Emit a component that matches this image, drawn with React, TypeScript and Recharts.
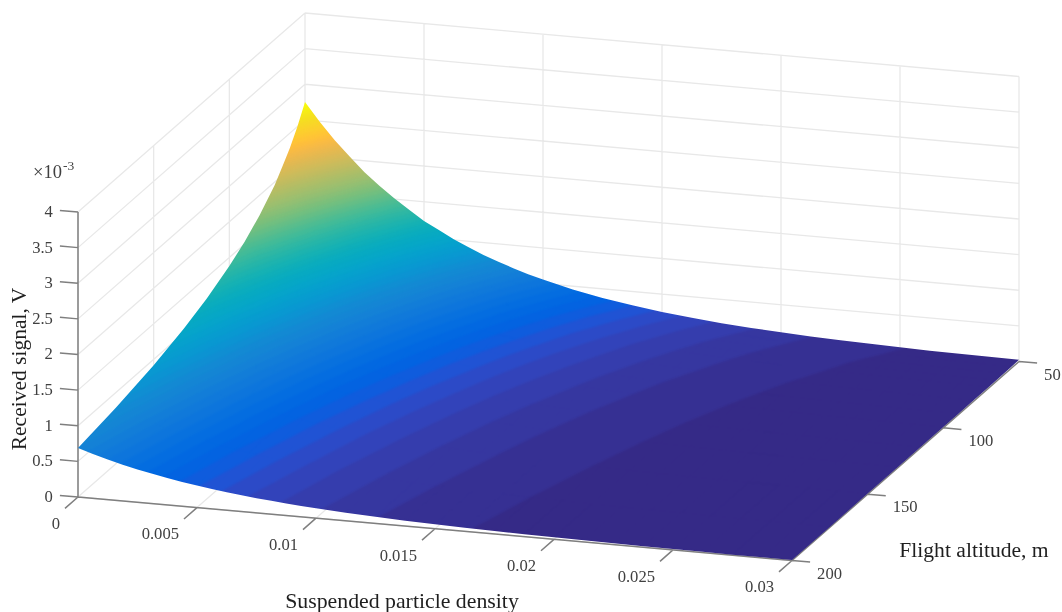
import { Scatter, ScatterChart, XAxis, YAxis } from "recharts";

const WIDTH = 1062;
const HEIGHT = 612;

// suspended particle density (rows' columns) and flight altitude (rows)
const densities = [
  0, 0.000625, 0.00125, 0.001875, 0.0025, 0.003125, 0.00375, 0.004375, 0.005, 0.005625, 0.00625,
  0.006875, 0.0075, 0.008125, 0.00875, 0.009375, 0.01, 0.01125, 0.0125, 0.01375, 0.015, 0.01625,
  0.0175, 0.01875, 0.02, 0.02125, 0.0225, 0.02375, 0.025, 0.02625, 0.0275, 0.02875, 0.03,
];
const altitudes = [50, 55, 60, 65, 70, 80, 90, 100, 115, 130, 150, 175, 200];

// received signal, x 10^-3 V
const signalAt50 = [2.75, 2.49, 2.25, 2.04, 1.84, 1.67, 1.51, 1.37, 1.23, 1.12, 1.01, 0.916, 0.828, 0.751, 0.679, 0.613, 0.556, 0.454, 0.371, 0.305, 0.249, 0.204, 0.167, 0.137, 0.112, 0.092, 0.075, 0.062, 0.05, 0.041, 0.034, 0.028, 0.023];
const signalAt55 = [2.5, 2.26, 2.05, 1.85, 1.68, 1.52, 1.37, 1.24, 1.12, 1.02, 0.92, 0.833, 0.753, 0.683, 0.618, 0.558, 0.505, 0.413, 0.338, 0.278, 0.227, 0.186, 0.152, 0.125, 0.102, 0.084, 0.068, 0.056, 0.046, 0.038, 0.031, 0.025, 0.021];
const signalAt60 = [2.29, 2.07, 1.88, 1.7, 1.54, 1.39, 1.26, 1.14, 1.03, 0.933, 0.843, 0.763, 0.69, 0.626, 0.566, 0.511, 0.463, 0.378, 0.309, 0.254, 0.208, 0.17, 0.139, 0.114, 0.094, 0.077, 0.063, 0.051, 0.042, 0.034, 0.028, 0.023, 0.019];
const signalAt65 = [2.12, 1.91, 1.73, 1.57, 1.42, 1.28, 1.16, 1.05, 0.95, 0.861, 0.778, 0.704, 0.637, 0.577, 0.522, 0.472, 0.427, 0.349, 0.286, 0.235, 0.192, 0.157, 0.129, 0.105, 0.086, 0.071, 0.058, 0.047, 0.039, 0.032, 0.026, 0.021, 0.017];
const signalAt70 = [1.96, 1.78, 1.61, 1.46, 1.32, 1.19, 1.08, 0.976, 0.882, 0.799, 0.723, 0.654, 0.591, 0.536, 0.485, 0.438, 0.397, 0.324, 0.265, 0.218, 0.178, 0.146, 0.119, 0.098, 0.08, 0.066, 0.054, 0.044, 0.036, 0.029, 0.024, 0.02, 0.016];
const signalAt80 = [1.72, 1.56, 1.41, 1.27, 1.15, 1.04, 0.944, 0.854, 0.772, 0.7, 0.633, 0.572, 0.517, 0.469, 0.425, 0.383, 0.347, 0.284, 0.232, 0.191, 0.156, 0.128, 0.105, 0.086, 0.07, 0.057, 0.047, 0.039, 0.031, 0.026, 0.021, 0.017, 0.014];
const signalAt90 = [1.53, 1.38, 1.25, 1.13, 1.02, 0.927, 0.839, 0.759, 0.686, 0.622, 0.562, 0.509, 0.46, 0.417, 0.377, 0.341, 0.309, 0.252, 0.206, 0.17, 0.139, 0.114, 0.093, 0.076, 0.062, 0.051, 0.042, 0.034, 0.028, 0.023, 0.019, 0.015, 0.013];
const signalAt100 = [1.38, 1.24, 1.13, 1.02, 0.921, 0.835, 0.755, 0.683, 0.617, 0.56, 0.506, 0.458, 0.414, 0.375, 0.34, 0.307, 0.278, 0.227, 0.186, 0.153, 0.125, 0.102, 0.084, 0.068, 0.056, 0.046, 0.038, 0.031, 0.025, 0.021, 0.017, 0.014, 0.011];
const signalAt115 = [1.2, 1.08, 0.98, 0.886, 0.801, 0.726, 0.657, 0.594, 0.537, 0.487, 0.44, 0.398, 0.36, 0.327, 0.295, 0.267, 0.242, 0.197, 0.161, 0.133, 0.108, 0.089, 0.073, 0.06, 0.049, 0.04, 0.033, 0.027, 0.022, 0.018, 0.015, 0.012, 0.01];
const signalAt130 = [1.06, 0.957, 0.866, 0.784, 0.709, 0.642, 0.581, 0.526, 0.475, 0.431, 0.389, 0.352, 0.318, 0.289, 0.261, 0.236, 0.214, 0.175, 0.143, 0.117, 0.096, 0.079, 0.064, 0.053, 0.043, 0.035, 0.029, 0.024, 0.019, 0.016, 0.013, 0.011, 0.009];
const signalAt150 = [0.917, 0.83, 0.751, 0.68, 0.614, 0.557, 0.503, 0.456, 0.412, 0.373, 0.337, 0.305, 0.276, 0.25, 0.226, 0.204, 0.185, 0.151, 0.124, 0.102, 0.083, 0.068, 0.056, 0.046, 0.037, 0.031, 0.025, 0.021, 0.017, 0.014, 0.011, 0.009, 0.008];
const signalAt175 = [0.786, 0.711, 0.644, 0.582, 0.527, 0.477, 0.432, 0.391, 0.353, 0.32, 0.289, 0.262, 0.237, 0.215, 0.194, 0.175, 0.159, 0.13, 0.106, 0.087, 0.071, 0.058, 0.048, 0.039, 0.032, 0.026, 0.021, 0.018, 0.014, 0.012, 0.01, 0.008, 0.006];
const signalAt200 = [0.688, 0.623, 0.563, 0.51, 0.461, 0.418, 0.378, 0.342, 0.309, 0.28, 0.253, 0.229, 0.207, 0.188, 0.17, 0.153, 0.139, 0.114, 0.093, 0.076, 0.062, 0.051, 0.042, 0.034, 0.028, 0.023, 0.019, 0.015, 0.013, 0.01, 0.008, 0.007, 0.006];
const signalRows = [
  signalAt50, signalAt55, signalAt60, signalAt65, signalAt70, signalAt80, signalAt90,
  signalAt100, signalAt115, signalAt130, signalAt150, signalAt175, signalAt200,
];

const densityTicks = [0, 0.005, 0.01, 0.015, 0.02, 0.025, 0.03];
const altitudeTicks = [50, 100, 150, 200];
const signalTicks = [0, 0.5, 1, 1.5, 2, 2.5, 3, 3.5, 4];
const gridAltitudes = [50, 100, 150, 200];

const parula = [
  [0.2081, 0.1663, 0.5292], [0.2116, 0.1898, 0.5777], [0.2123, 0.2138, 0.627], [0.2081, 0.2386, 0.6771],
  [0.1959, 0.2645, 0.7279], [0.1707, 0.2919, 0.7792], [0.1253, 0.3242, 0.8303], [0.0591, 0.3598, 0.8683],
  [0.0117, 0.3875, 0.882], [0.006, 0.4086, 0.8828], [0.0165, 0.4266, 0.8786], [0.0329, 0.443, 0.872],
  [0.0498, 0.4586, 0.8641], [0.0629, 0.4737, 0.8554], [0.0723, 0.4887, 0.8467], [0.0779, 0.504, 0.8384],
  [0.0793, 0.52, 0.8312], [0.0749, 0.5375, 0.8263], [0.0641, 0.557, 0.824], [0.0488, 0.5772, 0.8228],
  [0.0343, 0.5966, 0.8199], [0.0265, 0.6137, 0.8135], [0.0239, 0.6287, 0.8038], [0.0231, 0.6418, 0.7913],
  [0.0228, 0.6535, 0.7768], [0.0267, 0.6642, 0.7607], [0.0384, 0.6743, 0.7436], [0.059, 0.6838, 0.7254],
  [0.0843, 0.6928, 0.7062], [0.1133, 0.7015, 0.6859], [0.1453, 0.7098, 0.6646], [0.1801, 0.7177, 0.6424],
  [0.2178, 0.725, 0.6193], [0.2586, 0.7317, 0.5954], [0.3022, 0.7376, 0.5712], [0.3482, 0.7424, 0.5473],
  [0.3953, 0.7459, 0.5244], [0.442, 0.7481, 0.5033], [0.4871, 0.7491, 0.484], [0.53, 0.7491, 0.4661],
  [0.5709, 0.7485, 0.4494], [0.6099, 0.7473, 0.4337], [0.6473, 0.7456, 0.4188], [0.6834, 0.7435, 0.4044],
  [0.7184, 0.7411, 0.3905], [0.7525, 0.7384, 0.3768], [0.7858, 0.7356, 0.3633], [0.8185, 0.7327, 0.3498],
  [0.8507, 0.7299, 0.336], [0.8824, 0.7274, 0.3217], [0.9139, 0.7258, 0.3063], [0.945, 0.7261, 0.2886],
  [0.9739, 0.7314, 0.2666], [0.9938, 0.7455, 0.2403], [0.999, 0.7653, 0.2164], [0.9955, 0.7861, 0.1967],
  [0.988, 0.8066, 0.1794], [0.9789, 0.8271, 0.1633], [0.9697, 0.8481, 0.1475], [0.9626, 0.8705, 0.1309],
  [0.9589, 0.8949, 0.1132], [0.9598, 0.9218, 0.0948], [0.9661, 0.9514, 0.0755], [0.9763, 0.9831, 0.0538],
];
const bandColors = parula.map(
  (c) => `rgb(${Math.round(c[0] * 255)},${Math.round(c[1] * 255)},${Math.round(c[2] * 255)})`,
);

// fixed MATLAB-style orthographic view: data space to the chart's x/y plane
function project(density: number, altitude: number, signal: number) {
  const u = density / 0.03;
  const t = (200 - altitude) / 150;
  return {
    x: 78 + 714 * u + 227 * t,
    y: 497 + 63.5 * u - 199 * t - 71.25 * signal,
  };
}

type Vertex = { x: number; y: number; z: number };
type Pt = { x: number; y: number };

function lerp(a: Vertex, b: Vertex, level: number): Vertex {
  const k = (level - a.z) / (b.z - a.z);
  return { x: a.x + (b.x - a.x) * k, y: a.y + (b.y - a.y) * k, z: level };
}

function clip(poly: Vertex[], level: number, above: boolean) {
  const out: Vertex[] = [];
  poly.forEach((cur, i) => {
    const next = poly[(i + 1) % poly.length];
    const curIn = above ? cur.z >= level : cur.z <= level;
    const nextIn = above ? next.z >= level : next.z <= level;
    if (curIn) out.push(cur);
    if (curIn !== nextIn) out.push(lerp(cur, next, level));
  });
  return out;
}

// colour limits come from the surface; flat colour bands like a 64-level colormap
const allSignals = signalRows.flat();
const signalMin = Math.min(...allSignals);
const signalMax = Math.max(...allSignals);
const bandStep = (signalMax - signalMin) / bandColors.length;

const surfacePoints: Pt[] = [];
const surfacePolys: { band: number; size: number }[] = [];

for (let r = 0; r < altitudes.length - 1; r++) {
  for (let c = 0; c < densities.length - 1; c++) {
    const corners: [number, number][] = [
      [r, c],
      [r, c + 1],
      [r + 1, c + 1],
      [r + 1, c],
    ];
    const cell: Vertex[] = corners.map(([a, b]) => ({
      ...project(densities[b], altitudes[a], signalRows[a][b]),
      z: signalRows[a][b],
    }));
    const zs = cell.map((v) => v.z);
    const first = Math.floor((Math.min(...zs) - signalMin) / bandStep);
    const last = Math.floor((Math.max(...zs) - signalMin) / bandStep);
    for (let k = first; k <= last; k++) {
      const lo = signalMin + k * bandStep;
      const piece = clip(clip(cell, lo, true), lo + bandStep, false);
      if (piece.length < 3) continue;
      surfacePolys.push({ band: Math.min(k, bandColors.length - 1), size: piece.length });
      piece.forEach((v) => surfacePoints.push({ x: v.x, y: v.y }));
    }
  }
}

// surface border, appended after the cells, used as the clip of the softened fill
const outlineStart = surfacePoints.length;
const lastRow = altitudes.length - 1;
const lastCol = densities.length - 1;
densities.forEach((d, c) => surfacePoints.push(project(d, altitudes[0], signalRows[0][c])));
altitudes.forEach((h, r) => surfacePoints.push(project(densities[lastCol], h, signalRows[r][lastCol])));
[...densities.keys()].reverse().forEach((c) =>
  surfacePoints.push(project(densities[c], altitudes[lastRow], signalRows[lastRow][c])),
);
[...altitudes.keys()].reverse().forEach((r) =>
  surfacePoints.push(project(densities[0], altitudes[r], signalRows[r][0])),
);

function renderSurface(props: any) {
  const pts: Pt[] = props.points;
  const paths: string[] = bandColors.map(() => "");
  let at = 0;
  surfacePolys.forEach(({ band, size }) => {
    const part = pts.slice(at, at + size);
    at += size;
    paths[band] += "M" + part.map((p) => `${p.x.toFixed(2)} ${p.y.toFixed(2)}`).join("L") + "Z";
  });
  const outline = pts
    .slice(outlineStart)
    .map((p) => `${p.x.toFixed(2)},${p.y.toFixed(2)}`)
    .join(" ");
  // the bands are softened a little (the source is a resampled screenshot), the border stays crisp
  return (
    <g clipPath="url(#surfaceClip)">
      <defs>
        <clipPath id="surfaceClip">
          <polygon points={outline} />
        </clipPath>
        <filter
          id="surfaceSoft"
          filterUnits="userSpaceOnUse"
          x={0}
          y={0}
          width={WIDTH}
          height={HEIGHT}
          colorInterpolationFilters="sRGB"
        >
          <feGaussianBlur stdDeviation={0.85} />
          <feComponentTransfer>
            <feFuncA type="linear" slope={60} />
          </feComponentTransfer>
        </filter>
      </defs>
      <g filter="url(#surfaceSoft)">
        {paths.map((d, i) => (
          <path key={i} d={d} fill={bandColors[i]} stroke={bandColors[i]} strokeWidth={0.7} strokeLinejoin="round" />
        ))}
      </g>
    </g>
  );
}

// pairs of points, drawn through the chart's scales
function segmentsRenderer(stroke: string, strokeWidth: number) {
  return (props: any) => {
    const pts: Pt[] = props.points;
    let d = "";
    for (let i = 0; i + 1 < pts.length; i += 2) {
      d += `M${pts[i].x} ${pts[i].y}L${pts[i + 1].x} ${pts[i + 1].y}`;
    }
    return <path d={d} fill="none" stroke={stroke} strokeWidth={strokeWidth} />;
  };
}

const gridPoints: Pt[] = [];
const seg = (list: Pt[], a: Pt, b: Pt) => list.push(a, b);
densityTicks.forEach((d) => {
  seg(gridPoints, project(d, 200, 0), project(d, 50, 0));
  seg(gridPoints, project(d, 50, 0), project(d, 50, 4));
});
gridAltitudes.forEach((h) => {
  seg(gridPoints, project(0, h, 0), project(0.03, h, 0));
  seg(gridPoints, project(0, h, 0), project(0, h, 4));
});
signalTicks.forEach((z) => {
  seg(gridPoints, project(0, 200, z), project(0, 50, z));
  seg(gridPoints, project(0, 50, z), project(0.03, 50, z));
});

const axisPoints: Pt[] = [];
seg(axisPoints, project(0, 200, 0), project(0, 200, 4));
seg(axisPoints, project(0, 200, 0), project(0.03, 200, 0));
seg(axisPoints, project(0.03, 200, 0), project(0.03, 50, 0));
densityTicks.forEach((d) => seg(axisPoints, project(d, 200, 0), project(d, 208.6, 0)));
altitudeTicks.forEach((h) => seg(axisPoints, project(0.03, h, 0), project(0.03076, h, 0)));
signalTicks.forEach((z) => seg(axisPoints, project(0, 200, z), project(-0.00076, 200, z)));

type Label = Pt & {
  text: string;
  anchor?: string;
  size?: number;
  fill?: string;
  rotate?: number;
};
const TICK_FILL = "#404040";
const TITLE_FILL = "#1f1f1f";

const labels: Label[] = [
  ...signalTicks.map((z) => {
    const p = project(-0.00076, 200, z);
    return { x: p.x - 7, y: p.y + 1, text: String(z), anchor: "end" };
  }),
  ...densityTicks.map((d) => {
    const p = project(d, 208.6, 0);
    return { x: p.x - 5, y: p.y + 15, text: String(d), anchor: "end" };
  }),
  ...altitudeTicks.map((h) => {
    const p = project(0.03076, h, 0);
    return { x: p.x + 7, y: p.y + 11, text: String(h), anchor: "start" };
  }),
  { x: 33, y: 172, text: "\u00d710", anchor: "start", size: 18.5 },
  { x: 63, y: 165, text: "-3", anchor: "start", size: 13.5 },
  { x: 402, y: 601, text: "Suspended particle density", size: 21.8, fill: TITLE_FILL },
  { x: 974, y: 550, text: "Flight altitude, m", size: 21.6, fill: TITLE_FILL },
  { x: 19, y: 369, text: "Received signal, V", size: 21.5, fill: TITLE_FILL, rotate: -90 },
];

function LabelMark(props: any) {
  const { cx, cy, payload } = props;
  return (
    <text
      x={cx}
      y={cy}
      textAnchor={payload.anchor ?? "middle"}
      dominantBaseline="central"
      fontFamily='"Liberation Serif", serif'
      fontSize={payload.size ?? 16.6}
      fill={payload.fill ?? TICK_FILL}
      transform={payload.rotate ? `rotate(${payload.rotate} ${cx} ${cy})` : undefined}
    >
      {payload.text}
    </text>
  );
}

const noMark = () => <g />;

export default function App() {
  return (
    <div
      style={{
        position: "absolute",
        left: 0,
        top: 0,
        width: WIDTH,
        height: HEIGHT,
        background: "#fff",
        filter: "blur(0.55px)",
      }}
    >
      <ScatterChart width={WIDTH} height={HEIGHT} margin={{ top: 0, right: 0, bottom: 0, left: 0 }}>
        <XAxis type="number" dataKey="x" domain={[0, WIDTH]} hide />
        <YAxis type="number" dataKey="y" domain={[0, HEIGHT]} reversed hide width={0} />
        <Scatter
          data={gridPoints}
          shape={noMark}
          line={segmentsRenderer("#e8e8e8", 1.3)}
          isAnimationActive={false}
        />
        <Scatter
          data={axisPoints}
          shape={noMark}
          line={segmentsRenderer("#7f7f7f", 1.5)}
          isAnimationActive={false}
        />
        <Scatter data={surfacePoints} shape={noMark} line={renderSurface} isAnimationActive={false} />
        <Scatter data={labels} shape={LabelMark} isAnimationActive={false} />
      </ScatterChart>
    </div>
  );
}
